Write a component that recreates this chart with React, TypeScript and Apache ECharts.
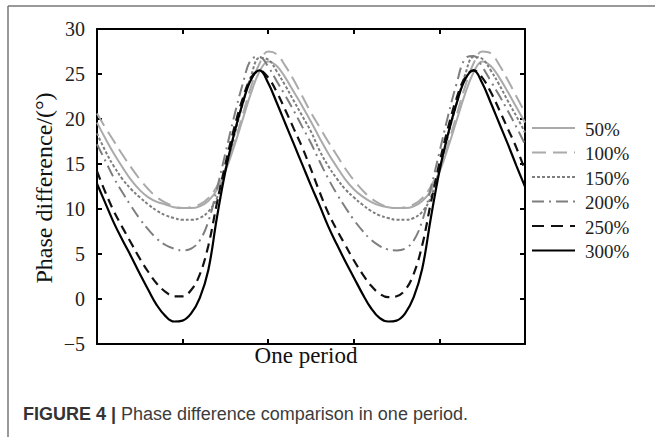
import React, { useEffect, useRef } from "react";
import * as echarts from "echarts";

const xs = [
  0, 0.1, 0.2, 0.3, 0.4, 0.5, 0.6, 0.7, 0.8, 0.9, 1.0, 1.1, 1.2, 1.3, 1.4, 1.5, 1.6, 1.7, 1.8, 1.9, 2.0, 2.1, 2.2, 2.3, 2.4, 2.5,
  2.6, 2.7, 2.8, 2.9, 3.0, 3.1, 3.2, 3.3, 3.4, 3.5, 3.6, 3.7, 3.8, 3.9, 4.0, 4.1, 4.2, 4.3, 4.4, 4.5, 4.6, 4.7, 4.8, 4.9, 5.0,
];

const seriesNames = ["50%", "100%", "150%", "200%", "250%", "300%"];

const v50 = [
  19.6, 17.8, 16.1, 14.6, 13.2, 12.1, 11.3, 10.8, 10.5, 10.2, 10.1, 10.1, 10.3, 10.9, 12.1, 14.2, 16.9, 19.9, 22.9, 25.3, 26.4, 25.9, 24.6, 23.0, 21.4, 19.7,
  17.9, 16.2, 14.7, 13.3, 12.2, 11.4, 10.8, 10.4, 10.2, 10.1, 10.1, 10.3, 10.9, 12.0, 14.1, 16.8, 19.8, 22.8, 25.2, 26.4, 25.9, 24.6, 23.0, 21.3, 19.6,
];
const v100 = [
  20.6, 19.0, 17.5, 16.0, 14.6, 13.3, 12.2, 11.3, 10.7, 10.3, 10.1, 10.2, 10.5, 11.2, 12.5, 14.5, 17.2, 20.4, 23.6, 26.2, 27.5, 27.2, 25.9, 24.3, 22.5, 20.7,
  19.1, 17.5, 16.0, 14.5, 13.2, 12.1, 11.2, 10.6, 10.2, 10.1, 10.2, 10.5, 11.2, 12.5, 14.5, 17.2, 20.4, 23.6, 26.2, 27.5, 27.3, 26.0, 24.3, 22.5, 20.7,
];
const v150 = [
  18.4, 16.4, 14.7, 13.3, 12.2, 11.3, 10.5, 9.8, 9.3, 9.0, 8.8, 8.8, 9.0, 9.7, 11.2, 14.3, 18.0, 21.6, 24.8, 26.8, 26.6, 25.3, 23.7, 22.0, 20.3, 18.6,
  16.5, 14.8, 13.4, 12.2, 11.3, 10.5, 9.8, 9.3, 9.0, 8.8, 8.8, 9.0, 9.7, 11.3, 14.4, 18.1, 21.7, 24.9, 26.9, 26.7, 25.4, 23.8, 22.0, 20.3, 18.5,
];
const v200 = [
  17.2, 15.3, 13.4, 11.8, 10.3, 8.9, 7.7, 6.7, 6.0, 5.6, 5.4, 5.6, 6.5, 8.6, 12.2, 16.2, 20.2, 23.8, 26.6, 26.9, 25.8, 24.2, 22.6, 20.9, 19.1, 17.3,
  15.3, 13.4, 11.7, 10.2, 8.8, 7.6, 6.6, 5.9, 5.5, 5.4, 5.6, 6.5, 8.7, 12.3, 16.3, 20.3, 23.9, 26.7, 27.0, 25.8, 24.2, 22.6, 20.9, 19.1, 17.2,
];
const v250 = [
  14.2, 11.8, 9.7, 7.9, 6.2, 4.5, 3.0, 1.7, 0.8, 0.3, 0.3, 1.0, 2.7, 5.9, 10.6, 15.0, 18.9, 22.2, 24.6, 25.4, 24.6, 23.0, 21.0, 18.9, 16.8, 14.4,
  11.9, 9.6, 7.7, 6.0, 4.3, 2.8, 1.5, 0.6, 0.2, 0.3, 1.0, 2.8, 6.0, 10.7, 15.1, 19.0, 22.3, 24.6, 25.4, 24.6, 23.0, 21.0, 18.9, 16.8, 14.3,
];
const v300 = [
  12.8, 10.6, 8.4, 6.5, 4.7, 2.8, 1.0, -0.7, -1.9, -2.5, -2.4, -1.6, 0.1, 3.2, 9.0, 14.2, 18.3, 21.7, 24.4, 25.4, 24.0, 21.8, 19.5, 17.2, 14.9, 12.6,
  10.4, 8.1, 6.1, 4.2, 2.4, 0.6, -1.0, -2.1, -2.5, -2.4, -1.6, 0.2, 3.4, 9.0, 14.2, 18.3, 21.7, 24.4, 25.4, 24.0, 21.8, 19.5, 17.2, 14.8, 12.5,
];

const allValues = [v50, v100, v150, v200, v250, v300];

const xAxisName = "One period";
const yAxisName = "Phase difference/(°)";
const captionBold = "FIGURE 4 | ";
const captionText = "Phase difference comparison in one period.";

const lineStyles: any[] = [
  { color: "#aaaaaa", type: "solid", dash: null, width: 2 },
  { color: "#aaaaaa", type: [14, 7], dash: [14, 7], width: 2 },
  { color: "#7e7e7e", type: [3, 2], dash: [3, 2], width: 2 },
  { color: "#7e7e7e", type: [12, 5, 2, 5], dash: [12, 5, 2, 5], width: 2 },
  { color: "#111111", type: [9, 6], dash: [12, 7], width: 2.2 },
  { color: "#000000", type: "solid", dash: null, width: 2.2 },
];

const SERIF = '"Liberation Serif", "Times New Roman", serif';

export default function App() {
  const ref = useRef<HTMLDivElement>(null);

  useEffect(() => {
    if (!ref.current) return;
    const chart = echarts.init(ref.current, undefined, { renderer: "svg" });

    const axisCommon = {
      axisLine: { show: true, onZero: false, lineStyle: { color: "#000", width: 2 } },
      axisTick: { show: true, inside: true, length: 5, lineStyle: { color: "#000", width: 2 } },
      splitLine: { show: false },
    };

    const legendGraphics: any[] = [];
    seriesNames.forEach((name, i) => {
      const y = 128 + i * 24.5;
      const ls = lineStyles[i];
      legendGraphics.push({
        type: "line",
        shape: { x1: 532, y1: y, x2: 575, y2: y },
        style: { stroke: ls.color, lineWidth: ls.width, lineDash: ls.dash || undefined },
      });
      legendGraphics.push({
        type: "text",
        x: 585,
        y: y + 1,
        style: {
          text: name,
          fill: "#222",
          font: `19px ${SERIF}`,
          align: "left",
          verticalAlign: "middle",
          textAlign: "left",
          textVerticalAlign: "middle",
        },
      });
    });

    const option: any = {
      animation: false,
      grid: { left: 97, right: 130, top: 29, bottom: 93 },
      xAxis: [
        { type: "value", min: 0, max: 5, interval: 1, position: "bottom", ...axisCommon, axisLabel: { show: false } },
        { type: "value", min: 0, max: 5, interval: 1, position: "top", ...axisCommon, axisLabel: { show: false } },
      ],
      yAxis: [
        {
          type: "value",
          min: -5,
          max: 30,
          interval: 5,
          position: "left",
          ...axisCommon,
          axisLabel: {
            show: true,
            margin: 12,
            fontFamily: SERIF,
            fontSize: 20,
            color: "#222",
            formatter: (v: number) => (v < 0 ? "\u2212" + Math.abs(v) : String(v)),
          },
        },
        { type: "value", min: -5, max: 30, interval: 5, position: "right", ...axisCommon, axisLabel: { show: false } },
      ],
      series: seriesNames.map((name, i) => ({
        name,
        type: "line",
        xAxisIndex: 0,
        yAxisIndex: 0,
        data: xs.map((x, j) => [x, allValues[i][j]]),
        smooth: 0.4,
        symbol: "none",
        showSymbol: false,
        lineStyle: { color: lineStyles[i].color, type: lineStyles[i].type, width: lineStyles[i].width },
        itemStyle: { color: lineStyles[i].color },
        z: 2 + i,
      })),
      graphic: [
        { type: "line", shape: { x1: 8, y1: 6, x2: 655, y2: 6 }, style: { stroke: "#777", lineWidth: 1.5 } },
        { type: "line", shape: { x1: 8, y1: 6, x2: 8, y2: 437 }, style: { stroke: "#777", lineWidth: 1.5 } },
        ...legendGraphics,
        {
          type: "text",
          x: 306,
          y: 355,
          style: {
            text: xAxisName,
            fill: "#111",
            font: `23px ${SERIF}`,
            align: "center",
            verticalAlign: "middle",
            textAlign: "center",
            textVerticalAlign: "middle",
          },
        },
        {
          type: "text",
          x: 44,
          y: 188,
          rotation: Math.PI / 2,
          style: {
            text: yAxisName,
            fill: "#111",
            font: `24px ${SERIF}`,
            align: "center",
            verticalAlign: "middle",
            textAlign: "center",
            textVerticalAlign: "middle",
          },
        },
        {
          type: "text",
          x: 23,
          y: 414,
          style: {
            text: `{b|${captionBold}}{r|${captionText}}`,
            verticalAlign: "middle",
            textVerticalAlign: "middle",
            rich: {
              b: { fontFamily: '"Liberation Sans", Arial, sans-serif', fontWeight: "bold", fontSize: 18, fill: "#333", color: "#333" },
              r: { fontFamily: '"Liberation Sans", Arial, sans-serif', fontSize: 18, fill: "#3c3c3c", color: "#3c3c3c" },
            },
          },
        },
      ],
    };

    chart.setOption(option);
    return () => chart.dispose();
  }, []);

  return <div ref={ref} style={{ position: "absolute", left: 0, top: 0, width: 655, height: 437 }} />;
}
